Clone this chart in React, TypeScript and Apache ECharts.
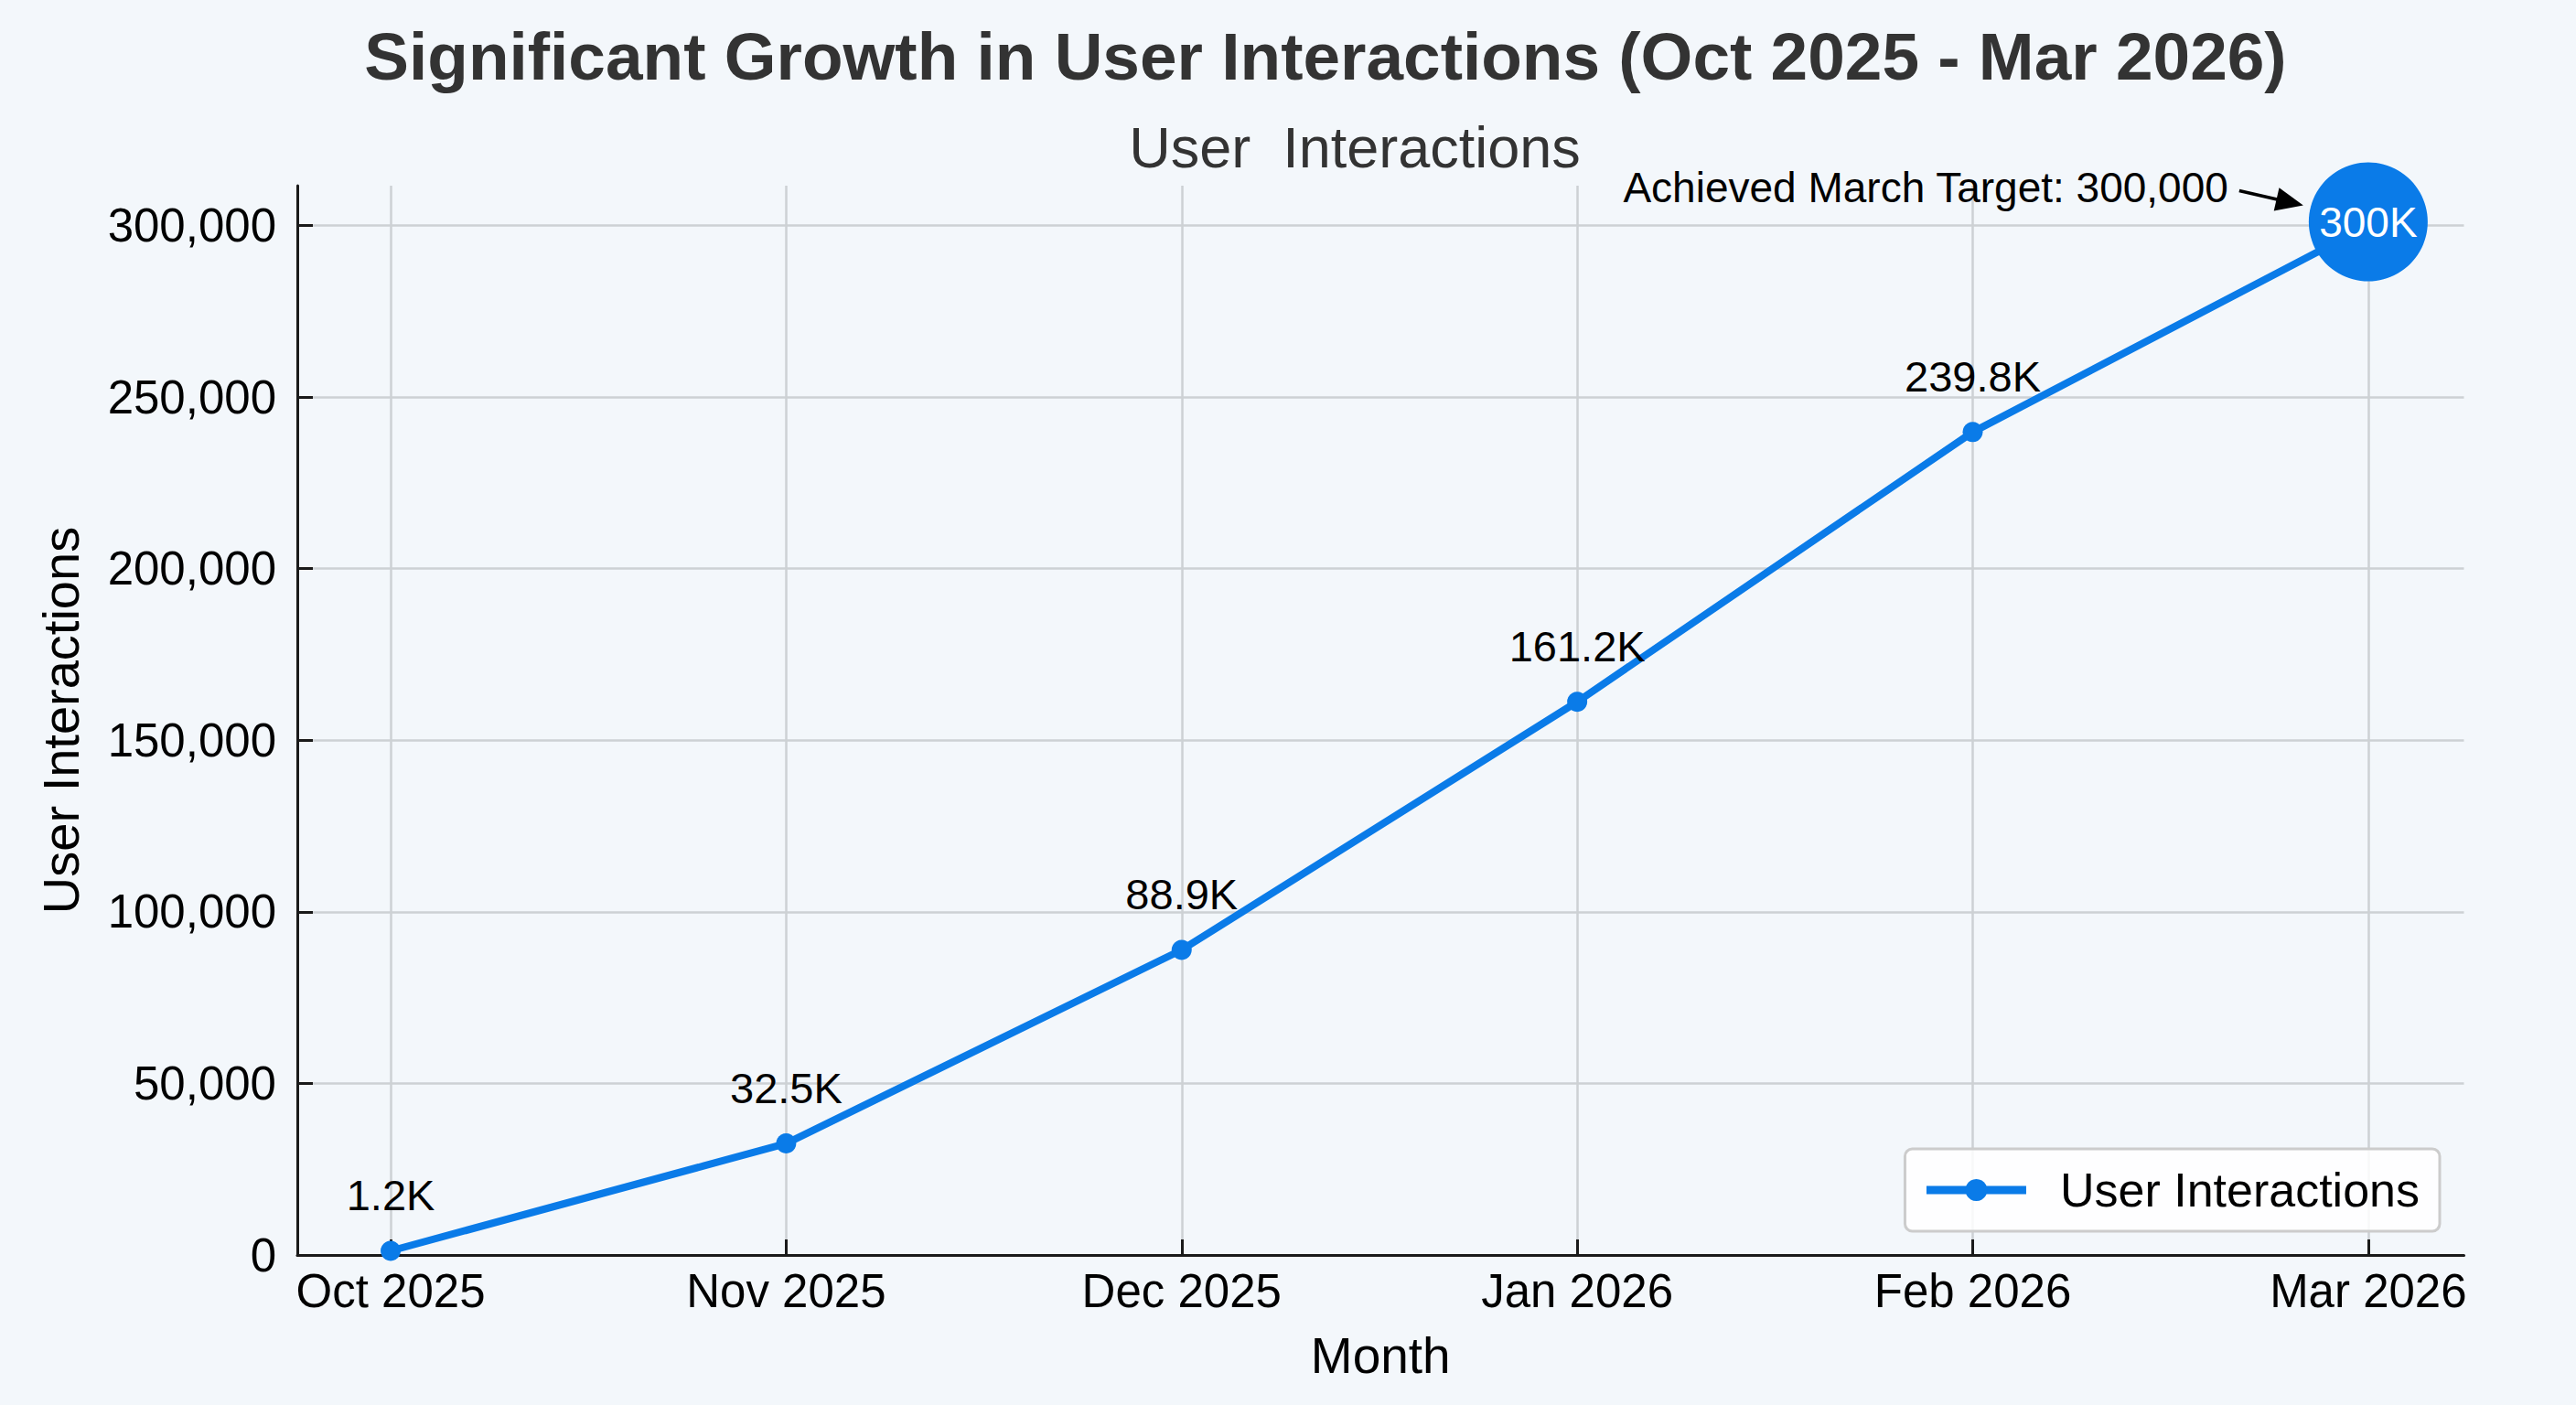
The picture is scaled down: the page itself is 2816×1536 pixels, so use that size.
import React, { useEffect, useRef } from "react";
import * as echarts from "echarts";

const months = ["Oct 2025", "Nov 2025", "Dec 2025", "Jan 2026", "Feb 2026", "Mar 2026"];
const interactions = [1200, 32500, 88900, 161200, 239800, 300000];
const yTicks = [0, 50000, 100000, 150000, 200000, 250000, 300000];
const xTicks = [0, 1, 2, 3, 4, 5];
const targetIndex = 5;
const targetValue = 300000;
const titleText = "Significant Growth in User Interactions (Oct 2025 - Mar 2026)";
const subtitleText = "User  Interactions";
const annotationText = "Achieved March Target: 300,000";
const seriesName = "User Interactions";

const FONT = "'Liberation Sans', Arial, Helvetica, sans-serif";
const BLUE = "#0A7BE8";

const fmtK = (v: number) => {
  const k = v / 1000;
  return (Number.isInteger(k) ? k.toFixed(0) : k.toFixed(1)) + "K";
};

export default function App() {
  const ref = useRef<HTMLDivElement>(null);
  useEffect(() => {
    if (!ref.current) return;
    const chart = echarts.init(ref.current, undefined, { renderer: "svg" });
    chart.setOption({
      animation: false,
      backgroundColor: "#F3F7FB",
      textStyle: { fontFamily: FONT },
      title: [
        {
          text: titleText,
          left: 1444,
          textAlign: "center",
          top: 20,
          textStyle: { fontFamily: FONT, fontSize: 73, fontWeight: "bold", color: "#333333" },
        },
        {
          text: subtitleText,
          left: 1476,
          textAlign: "center",
          top: 124,
          textStyle: { fontFamily: FONT, fontSize: 63, fontWeight: "normal", color: "#333333" },
        },
      ],
      legend: {
        data: [seriesName],
        right: 149,
        top: 1256,
        padding: [19, 22, 19, 19],
        itemWidth: 109,
        itemHeight: 30,
        backgroundColor: "rgba(255,255,255,0.85)",
        borderColor: "#cccccc",
        borderWidth: 3,
        borderRadius: 8,
        lineStyle: { width: 9 },
        textStyle: { fontFamily: FONT, fontSize: 52, color: "#000", padding: [0, 0, 0, 32] },
      },
      grid: { left: 325, right: 122.5, top: 203, bottom: 164, containLabel: false },
      xAxis: {
        type: "value",
        min: -0.236,
        max: 5.242,
        name: "Month",
        nameLocation: "middle",
        nameGap: 82,
        nameTextStyle: { fontFamily: FONT, fontSize: 55, color: "#000" },
        axisLine: { show: true, onZero: false, lineStyle: { color: "#1a1a1a", width: 3 } },
        axisTick: { show: true, inside: true, length: 17, customValues: xTicks, lineStyle: { color: "#1a1a1a", width: 3 } },
        axisLabel: {
          customValues: xTicks,
          margin: 14,
          fontFamily: FONT,
          fontSize: 51,
          color: "#000",
          formatter: (v: number) => months[Math.round(v)] ?? "",
        },
        splitLine: { show: true, lineStyle: { color: "#cdd1d4", width: 2.5 } },
      },
      yAxis: {
        type: "value",
        min: 0,
        max: 311600,
        name: "User Interactions",
        nameLocation: "middle",
        nameGap: 231,
        nameTextStyle: { fontFamily: FONT, fontSize: 56, color: "#000" },
        axisLine: { show: true, onZero: false, lineStyle: { color: "#1a1a1a", width: 3 } },
        axisTick: { show: true, inside: true, length: 17, customValues: yTicks, lineStyle: { color: "#1a1a1a", width: 3 } },
        axisLabel: {
          customValues: yTicks,
          margin: 23,
          fontFamily: FONT,
          fontSize: 51,
          color: "#000",
          formatter: (v: number) => v.toLocaleString("en-US"),
        },
        splitLine: { show: true, lineStyle: { color: "#cdd1d4", width: 2.5 } },
      },
      series: [
        {
          name: seriesName,
          type: "line",
          data: interactions.map((v, i) => [i, v]),
          symbol: "circle",
          symbolSize: 22,
          itemStyle: { color: BLUE },
          lineStyle: { color: BLUE, width: 8 },
          label: {
            show: true,
            position: "top",
            distance: 26,
            fontFamily: FONT,
            fontSize: 47,
            color: "#000",
            formatter: (p: any) => (p.dataIndex === targetIndex ? "" : fmtK(p.value[1])),
          },
          z: 3,
        },
        {
          name: "target",
          type: "scatter",
          data: [[targetIndex, targetValue]],
          symbol: "circle",
          symbolSize: 130,
          symbolOffset: [0, -4],
          itemStyle: { color: BLUE, opacity: 1 },
          label: {
            show: true,
            position: "inside",
            fontFamily: FONT,
            fontSize: 46,
            color: "#ffffff",
            formatter: (p: any) => fmtK(p.value[1]),
          },
          z: 5,
        },
      ],
    });

    const p = chart.convertToPixel({ gridIndex: 0 }, [targetIndex, targetValue]) as number[];
    const sx = p[0] - 141, sy = p[1] - 38;
    const tx = p[0] - 71, ty = p[1] - 22;
    const dx = tx - sx, dy = ty - sy;
    const len = Math.sqrt(dx * dx + dy * dy);
    const ux = dx / len, uy = dy / len;
    const hl = 30, hw = 13;
    const bx = tx - ux * hl, by = ty - uy * hl;
    chart.setOption({
      graphic: [
        {
          type: "text",
          x: p[0] - 153,
          y: p[1] - 42,
          style: {
            text: annotationText,
            fontFamily: FONT,
            fontSize: 46,
            fill: "#000",
            align: "right",
            verticalAlign: "middle",
          },
          z: 10,
        },
        {
          type: "line",
          shape: { x1: sx, y1: sy, x2: bx + ux * 4, y2: by + uy * 4 },
          style: { stroke: "#000", lineWidth: 3.5 },
          z: 10,
        },
        {
          type: "polygon",
          shape: {
            points: [
              [tx, ty],
              [bx - uy * hw, by + ux * hw],
              [bx + uy * hw, by - ux * hw],
            ],
          },
          style: { fill: "#000" },
          z: 10,
        },
      ],
    });

    return () => chart.dispose();
  }, []);
  return (
    <div
      ref={ref}
      style={{ position: "absolute", left: 0, top: 0, width: 2816, height: 1536 }}
    />
  );
}
